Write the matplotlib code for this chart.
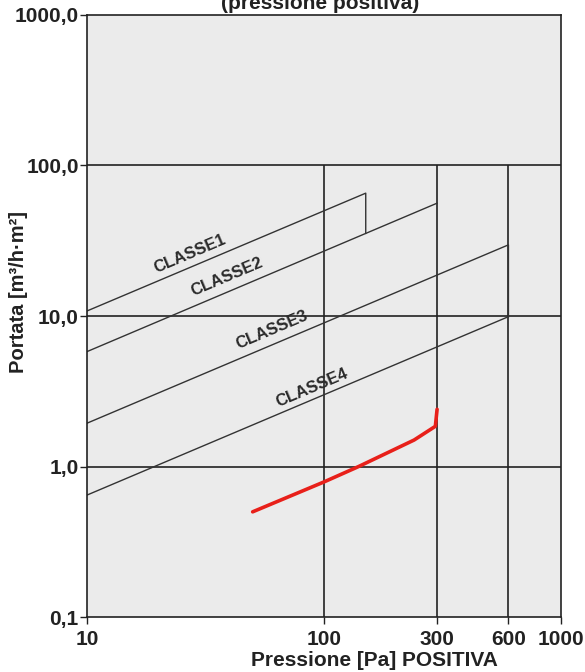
import matplotlib
matplotlib.use("Agg")
import matplotlib.pyplot as plt

plt.rcParams['font.family'] = ['Liberation Sans', 'DejaVu Sans']

# valori
classi = ['CLASSE1', 'CLASSE2', 'CLASSE3', 'CLASSE4']
classi_x = [[10, 150, 150], [10, 300], [10, 600, 600], [10, 600]]
classi_y = [[10.8, 65.5, 35.4], [5.8, 56.2], [1.94, 29.7, 9.9], [0.646, 9.9]]
etich_x = [27.2, 39, 60.4, 89]
etich_y = [26.0, 18.3, 8.1, 3.35]

misura_x = [50, 100, 140, 240, 295, 300]
misura_y = [0.50, 0.79, 1.0, 1.5, 1.85, 2.4]

griglia_x = [100, 300, 600]
griglia_y = [1, 10, 100]
xticks = [10, 100, 300, 600, 1000]
xtick_lab = ['10', '100', '300', '600', '1000']
yticks = [0.1, 1, 10, 100, 1000]
ytick_lab = ['0,1', '1,0', '10,0', '100,0', '1000,0']

fig = plt.figure(figsize=(5.85, 6.72), dpi=100)
ax = fig.add_axes([0.1487, 0.0818, 0.8103, 0.8959])
ax.set_facecolor('#ebebeb')
ax.set_xscale('log')
ax.set_yscale('log')
ax.set_xlim(10, 1000)
ax.set_ylim(0.1, 1000)

# griglia
ax.hlines(griglia_y, 10, 1000, color='#222222', lw=1.2, zorder=1)
ax.vlines(griglia_x, 0.1, 100, color='#222222', lw=1.2, zorder=1)

# classi
for nome, xs, ys, tx, ty in zip(classi, classi_x, classi_y, etich_x, etich_y):
    ax.plot(xs, ys, color='#333333', lw=1.0, zorder=2)
    ax.text(tx, ty, nome, rotation=23, ha='center', va='center',
            fontsize=12, fontweight='bold', color='#2a2a2a', zorder=3)

# curva misurata
ax.plot(misura_x, misura_y, color='#e8201a', lw=2.6, zorder=4,
        solid_capstyle='round', solid_joinstyle='round')

ax.minorticks_off()
ax.set_xticks(xticks)
ax.set_xticklabels(xtick_lab)
ax.set_yticks(yticks)
ax.set_yticklabels(ytick_lab)
ax.tick_params(axis='both', direction='out', length=5, width=1,
               labelsize=15, colors='#222222', pad=1)
ax.tick_params(axis='x', pad=4)
for lab in ax.get_xticklabels() + ax.get_yticklabels():
    lab.set_fontweight('bold')
for s in ax.spines.values():
    s.set_linewidth(1.2)
    s.set_color('#222222')

# titolo tagliato in alto come nell'originale
fig.text(320 / 585, 1 - 9 / 672, '(pressione positiva)', ha='center', va='baseline',
         fontsize=15, fontweight='bold', color='#222222')
fig.text(374 / 585, 1 - 660 / 672, 'Pressione [Pa] POSITIVA', ha='center', va='center',
         fontsize=15, fontweight='bold', color='#222222')
fig.text(19 / 585, 1 - 292 / 672, 'Portata [m³/h·m²]', ha='center', va='center',
         rotation=90, fontsize=14.5, fontweight='bold', color='#222222')

fig.savefig('out.png', dpi=100, facecolor='white')
